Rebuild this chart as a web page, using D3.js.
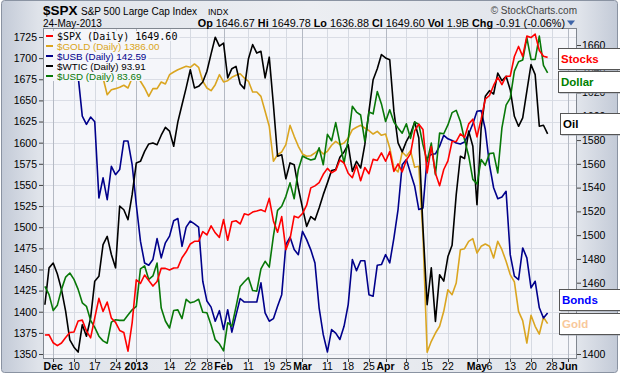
<!DOCTYPE html>
<html><head><meta charset="utf-8">
<script src="https://cdn.jsdelivr.net/npm/d3@7"></script>
<style>html,body{margin:0;padding:0;background:#fff;} svg{display:block;font-family:"Liberation Sans",Arial,sans-serif;}</style>
</head><body><svg id="c" width="620" height="376"></svg>
<script>
// ---------- data ----------
const startDate = "2012-11-29", endDate = "2013-06-05";
const holidays = ["2012-12-25","2013-01-01","2013-01-21","2013-02-18","2013-03-29","2013-05-27"];
const tickDates = ["2012-12-03","2012-12-10","2012-12-17","2012-12-24","2013-01-02","2013-01-14","2013-01-22","2013-01-28","2013-02-01","2013-02-11","2013-02-19","2013-02-25","2013-03-01","2013-03-11","2013-03-18","2013-03-25","2013-04-01","2013-04-08","2013-04-15","2013-04-22","2013-05-01","2013-05-06","2013-05-13","2013-05-20","2013-05-28","2013-06-03"];
const tickLabels = ["Dec","10","17","24","2013","14","22","28","Feb","11","19","25","Mar","11","18","25","Apr","8","15","22","May","6","13","20","28","Jun"];
const majorLabels = ["Dec","2013","Feb","Mar","Apr","May","Jun"];
const leftTicks = [1350,1375,1400,1425,1450,1475,1500,1525,1550,1575,1600,1625,1650,1675,1700,1725];
const rightTicks = [1400,1420,1440,1460,1480,1500,1520,1540,1560,1580,1600,1620,1640,1660];

const spx = [1415.95,1416.18,
1409.46,1407.05,1409.28,1413.94,1418.07,1418.55,1427.84,1428.48,1419.45,1413.58,1430.36,1446.79,1435.81,1443.69,1430.15,1426.66,1419.83,1418.10,1402.43,1426.19,
1462.42,1459.37,1466.47,1461.89,1457.15,1461.02,1472.12,1472.05,1470.68,1472.34,1472.63,1480.94,1485.98,1492.56,1494.81,1494.82,1502.96,1500.18,1507.84,1501.96,1498.11,
1513.17,1495.71,1511.29,1512.12,1509.39,1517.93,1517.01,1519.43,1520.33,1521.38,1519.79,1530.94,1511.95,1502.42,1515.60,1487.85,1496.94,1515.99,1514.68,
1518.20,1525.20,1539.79,1541.46,1544.26,1551.18,1556.22,1552.48,1554.52,1563.23,1560.70,1552.10,1548.34,1558.71,1545.80,1556.89,1551.69,1563.77,1562.85,1569.19,
1562.17,1570.25,1553.69,1559.98,1553.28,1563.07,1568.61,1587.73,1593.37,1588.85,1552.36,1574.57,1552.01,1541.61,1555.25,1562.50,1578.78,1578.79,1585.16,1582.24,1593.61,1597.57,
1582.70,1597.59,1614.42,1617.50,1625.96,1632.69,1626.67,1633.70,1633.77,1650.34,1658.78,1650.47,1667.47,1666.29,1669.16,1655.35,1650.51,1649.60];

const gold = [1722,1714,1719,1697,1694,1699,1702,1711,1714,1710,1697,1698,1695,1688,
1676.5,1656.7,1662.7,1663.9,1665.5,1667.9,1664.7,1676.5,1678.5,1672.6,1664.7,1654.8,1663.9,1663.9,1671.8,1669.4,1680.4,1683.6,1686.3,
1688.3,1690.3,1689.1,1693.1,1689.1,1672.6,1664.7,1661.5,1668.6,1680.4,1671.8,1673.3,1677.3,1679.7,1681.6,1676.5,1672.6,1659.9,1659.9,1654.8,1637.1,1619.4,1578.0,1585.8,1589.0,1597.6,1620.5,1607.5,1595.7,1586.6,1583.9,1584.5,1588,
1591.7,1586.6,1589.8,1596.9,1601.6,1597.6,1599.6,1605.5,1615.3,1618.2,1620.5,1617.3,1614.2,1610.2,1613.4,1608.7,1610.2,1593.7,1570,1565.3,1589,1583.9,1590.5,1570.9,1572,1490,1352,1365,1374.8,1382.8,1400.5,1426,
1420.2,1434,1473.4,1474.6,1483.3,1486.4,1469.5,1477.4,1480.1,1477.4,1463.6,1483.3,1473.4,1459.6,1443.9,1435.2,1400.5,1389.4,1363,1395.8,1382.8,1373.6,1393.4,1386.00];

const usb = [150.4,150.6,150.8,150.7,150.5,150.6,150.4,150.2,
149.99,148.74,148.48,148.71,148.56,146.18,146.81,146.13,147.17,146.91,147.07,147.96,147.96,147.22,145.97,144.83,144.15,144.08,144.26,144.91,144.31,144.78,144.99,145.47,145.54,
144.67,145.27,145.46,145.37,145.27,143.58,142.96,142.77,142.33,142.66,142.07,142.69,141.99,142.52,143.04,142.93,142.93,142.93,142.93,143.53,142.59,142.33,142.41,142.80,143.16,144.72,144.96,144.57,144.41,145.14,144.88,144.56,144.15,
142.75,141.91,141.37,142.07,141.96,141.76,142.17,142.85,144.26,143.91,144.22,144.22,143.16,143.11,144.08,144.10,144.41,144.15,144.93,145.82,147.22,147.38,146.96,146.55,145.82,145.87,147.43,147.54,147.56,147.80,148.14,148.03,
147.98,147.90,147.87,147.93,148.18,148.50,148.89,148.91,148.32,147.22,146.50,146.16,146.21,146.39,144.41,143.74,143.63,144.62,144.31,143.37,143.58,142.75,142.43,142.59];

const wtic = [87.24,88.68,88.87,88.44,87.83,86.98,85.87,85.58,85.39,86.46,86.01,86.72,88.16,88.35,89.59,89.91,89.2,88.68,91.09,90.95,90.56,91.54,92.78,92.84,93.23,93.52,93.56,93.49,93.86,94.17,94.02,93.43,94.38,
95.05,95.71,96.42,95.71,95.77,95.94,96.36,97.04,97.69,97.34,97.46,96.10,96.46,96.55,95.86,95.68,96.85,97.40,97.07,97.14,96.10,96.91,95.05,93.04,93.10,92.16,92.78,92.71,91.80,91.02,90.30,90.68,90.55,
91.02,91.54,92.0,92.48,92.52,93.0,93.21,93.49,92.45,92.84,92.58,93.49,94.80,96.03,96.46,97.01,96.88,96.81,94.80,93.56,93.21,93.62,93.91,94.38,93.75,90.24,87.24,88.68,86.59,88.41,88.16,89.12,
89.56,91.54,93.04,92.95,94.02,93.43,91.15,94.14,95.38,95.60,95.47,96.29,95.99,96.16,95.64,94.60,94.21,94.54,95.58,96.62,96.23,94.21,94.25,93.91];

const usd = [80.04,79.90,79.63,79.72,79.99,80.20,80.27,80.16,79.99,79.76,79.70,79.46,79.34,79.19,79.11,79.07,79.43,79.47,79.46,79.46,79.55,79.64,79.70,80.34,80.39,80.16,80.22,80.44,79.67,79.45,79.33,79.63,79.64,
79.49,79.82,79.76,79.78,79.82,79.60,79.59,79.38,79.13,79.06,78.94,79.42,79.36,79.69,80.04,80.12,80.19,79.97,79.96,80.34,80.47,80.37,80.90,81.34,81.41,81.58,81.81,81.54,82.04,82.27,82.23,82.20,82.22,
82.41,82.12,82.64,82.53,82.84,82.49,82.15,82.55,83.12,83.02,82.97,82.52,83.02,82.99,83.37,83.16,82.86,83.06,82.85,82.75,82.66,82.82,82.57,82.85,82.81,82.46,82.18,82.49,81.95,82.66,82.65,82.80,
83.01,83.05,82.86,82.55,82.27,81.87,81.79,82.21,82.11,82.31,82.32,81.98,82.75,83.14,83.26,83.72,83.88,83.91,84.29,83.92,83.92,84.32,83.82,83.69];

const seriesNames = ["$SPX","$GOLD","$USB","$WTIC","$USD"];
const seriesLast = ["1649.60","1386.00","142.59","93.91","83.69"];
const seriesColors = ["#ff0000","#daa520","#00008b","#000000","#087808"];
const sideLabels = ["Stocks","Dollar","Oil","Bonds","Gold"];
const sideColors = ["#ff0000","#008000","#000000","#0000ff","#f8c89a"];

// ---------- build trading dates ----------
const fmt = d3.utcFormat("%Y-%m-%d");
const dates = [];
for (let d = new Date(startDate+"T00:00:00Z"); fmt(d) <= endDate; d = d3.utcDay.offset(d,1)) {
  const wd = d.getUTCDay();
  if (wd === 0 || wd === 6) continue;
  if (holidays.includes(fmt(d))) continue;
  dates.push(fmt(d));
}
const idx = s => dates.indexOf(s);

// ---------- layout ----------
const L = 43, R = 577, T = 28, B = 359;
const svg = d3.select("#c");
const defs = svg.append("defs");
const g1 = defs.append("linearGradient").attr("id","bg").attr("x1","0").attr("x2","1").attr("y1","0").attr("y2","0");
[[0,"#c3cad7"],[0.06,"#dfe3ea"],[0.5,"#eceef2"],[0.94,"#dfe3ea"],[1,"#c3cad7"]].forEach(s=>g1.append("stop").attr("offset",s[0]).attr("stop-color",s[1]));
defs.append("clipPath").attr("id","clip").append("rect").attr("x",L).attr("y",T).attr("width",R-L).attr("height",B-T);

svg.append("rect").attr("x",1.5).attr("y",0.5).attr("width",616).attr("height",372).attr("rx",3)
  .attr("fill","url(#bg)").attr("stroke","#8a93a2");
svg.append("rect").attr("x",L).attr("y",T).attr("width",R-L).attr("height",B-T).attr("fill","#f5f6fa");

// scales
const x = d3.scaleLinear().domain([-0.455, 128.07]).range([43, 577]);
const ySpx = d3.scaleLinear().domain([1400,1660]).range([354,45]);
const yGold = d3.scaleLinear().domain([1350,1725]).range([354,37]);
const yUsb = d3.scaleLinear().domain([141.15,151.46]).range([359,29]);
const yWtic = d3.scaleLinear().domain([85.12,98.01]).range([359,29]);
const yUsd = d3.scaleLinear().domain([78.80,84.44]).range([359,29]);

// grid
const grid = svg.append("g");
leftTicks.forEach(v=>{
  grid.append("line").attr("x1",L).attr("x2",R).attr("y1",Math.round(yGold(v))+0.5).attr("y2",Math.round(yGold(v))+0.5)
    .attr("stroke","#dadde5").attr("stroke-width",1);
});
tickDates.forEach((d,k)=>{
  const xx = Math.round(x(idx(d)))+0.5;
  const major = majorLabels.includes(tickLabels[k]);
  grid.append("line").attr("x1",xx).attr("x2",xx).attr("y1",T).attr("y2",B)
    .attr("stroke", major ? "#b4b9c3" : "#d6dae2").attr("stroke-width",1);
});

// lines
const plot = svg.append("g").attr("clip-path","url(#clip)");
const mk = (arr, ys) => d3.line().x((d,i)=>x(i)).y(d=>ys(d))(arr);
[[gold,yGold,1],[usb,yUsb,2],[wtic,yWtic,3],[usd,yUsd,4],[spx,ySpx,0]].forEach(([arr,ys,c])=>{
  plot.append("path").attr("d",mk(arr,ys)).attr("fill","none").attr("stroke",seriesColors[c])
    .attr("stroke-width",1.6).attr("stroke-linejoin","round");
});

// legend
const leg = svg.append("g");
seriesNames.forEach((n,k)=>{
  const by = 40 + k*10;
  const t = leg.append("text").attr("x",57).attr("y",by)
    .attr("fill", k===0 ? "#000" : seriesColors[k])
    .style("font-family", k===0 ? "'DejaVu Sans Mono',monospace" : "'Liberation Sans',Arial,sans-serif")
    .style("font-size", k===0 ? "10px" : "9.8px")
    .text(`${n} (Daily) ${seriesLast[k]}`);
  const w = t.node().getComputedTextLength();
  leg.insert("rect","text").attr("x",44).attr("y",by-9).attr("width",w+15).attr("height",10).attr("fill","#f5f6fa");
  leg.append("line").attr("x1",46).attr("x2",53).attr("y1",by-4).attr("y2",by-4).attr("stroke",seriesColors[k]).attr("stroke-width",2);
});

// frame
svg.append("rect").attr("x",L+0.5).attr("y",T+0.5).attr("width",R-L-1).attr("height",B-T-1)
  .attr("fill","none").attr("stroke","#80868f");

// left axis
const la = svg.append("g").attr("transform",`translate(${L},0)`)
  .call(d3.axisLeft(yGold).tickValues(leftTicks).tickSize(4).tickPadding(2).tickFormat(d3.format("d")));
la.select(".domain").remove();
la.selectAll("text").style("font-size","10.5px").style("font-family","'Liberation Sans',Arial,sans-serif").attr("fill","#000");
la.selectAll("line").attr("stroke","#444");

// right axis
const ra = svg.append("g").attr("transform",`translate(${R},0)`)
  .call(d3.axisRight(ySpx).tickValues(rightTicks).tickSize(4).tickPadding(1).tickFormat(d3.format("d")));
ra.select(".domain").remove();
ra.selectAll("text").style("font-size","10.5px").style("font-family","'Liberation Sans',Arial,sans-serif").attr("fill","#000");
ra.selectAll("line").attr("stroke","#444");

// bottom axis labels
const bx = svg.append("g");
tickDates.forEach((d,k)=>{
  const major = majorLabels.includes(tickLabels[k]);
  bx.append("text").attr("x",x(idx(d))).attr("y",370).attr("text-anchor","middle")
    .style("font-size","10.5px").style("font-weight", major ? "bold" : "normal").attr("fill","#000")
    .text(tickLabels[k]);
  bx.append("line").attr("x1",Math.round(x(idx(d)))+0.5).attr("x2",Math.round(x(idx(d)))+0.5).attr("y1",B).attr("y2",B+3).attr("stroke","#444");
});

// side labels
const sideTops = [48,71,113,289,313];
const sideLefts = [558,558,560,559,559];
sideLabels.forEach((s,k)=>{
  svg.append("rect").attr("x",sideLefts[k]+1.5).attr("y",sideTops[k]+1.5).attr("width",80).attr("height",21).attr("fill","#9aa0aa");
  svg.append("rect").attr("x",sideLefts[k]+0.5).attr("y",sideTops[k]+0.5).attr("width",80).attr("height",21).attr("fill","#fff").attr("stroke","#555");
  svg.append("text").attr("x",sideLefts[k]+3).attr("y",sideTops[k]+15).attr("fill",sideColors[k])
    .style("font-size","11.5px").style("font-weight","bold").text(s);
});

// header
svg.append("text").attr("x",43).attr("y",15).style("font-size","13.5px").style("font-weight","bold").text("$SPX");
svg.append("text").attr("x",81).attr("y",15).style("font-size","10px").text("S&P 500 Large Cap Index");
svg.append("text").attr("x",208).attr("y",14.5).style("font-size","8.5px").text("INDX");
svg.append("text").attr("x",577).attr("y",14).attr("text-anchor","end").style("font-size","10px").attr("fill","#444").text("© StockCharts.com");
svg.append("text").attr("x",43).attr("y",26.5).style("font-size","10px").text("24-May-2013");
const stats = [["Op","1646.67"],["Hi","1649.78"],["Lo","1636.88"],["Cl","1649.60"],["Vol","1.9B"],["Chg","-0.91 (-0.06%)"]];
const st = svg.append("text").attr("x",565).attr("y",26.5).attr("text-anchor","end").style("font-size","10.8px");
stats.forEach((p,k)=>{
  st.append("tspan").style("font-weight","bold").text((k?" ":"")+p[0]);
  st.append("tspan").text(" "+p[1]);
});
svg.append("path").attr("d","M567,20.5 L575,20.5 L571,25.5 Z").attr("fill","#3d64a8");
</script></body></html>
